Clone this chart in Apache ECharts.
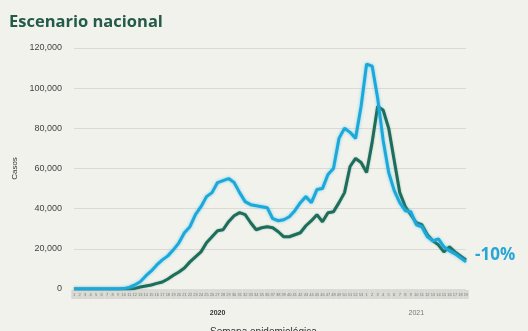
<!DOCTYPE html>
<html>
<head>
<meta charset="utf-8">
<script src="https://cdn.jsdelivr.net/npm/echarts@6/dist/echarts.min.js"></script>
<style>
html,body{margin:0;padding:0;background:#f1f2ec;}
#chart{width:528px;height:331px;}
</style>
</head>
<body>
<div id="chart"></div>
<script>
// Epidemiological weeks (2020 W1..W53, 2021 W1..W19)
const categories = [
 '2020-01','2020-02','2020-03','2020-04','2020-05','2020-06','2020-07','2020-08','2020-09','2020-10',
 '2020-11','2020-12','2020-13','2020-14','2020-15','2020-16','2020-17','2020-18','2020-19','2020-20',
 '2020-21','2020-22','2020-23','2020-24','2020-25','2020-26','2020-27','2020-28','2020-29','2020-30',
 '2020-31','2020-32','2020-33','2020-34','2020-35','2020-36','2020-37','2020-38','2020-39','2020-40',
 '2020-41','2020-42','2020-43','2020-44','2020-45','2020-46','2020-47','2020-48','2020-49','2020-50',
 '2020-51','2020-52','2020-53',
 '2021-01','2021-02','2021-03','2021-04','2021-05','2021-06','2021-07','2021-08','2021-09','2021-10',
 '2021-11','2021-12','2021-13','2021-14','2021-15','2021-16','2021-17','2021-18','2021-19'
];
const yearTicks = ['2020-27', '2021-10'];
const yearNames = ['2020', '2021'];
const yTicks = [0, 20000, 40000, 60000, 80000, 100000, 120000];

// Blue series (estimated cases)
const casosEstimados = [
 0,0,0,0,0,0,0,0,20,200,
 800,2000,3600,6500,9000,12000,14500,16500,19500,23000,
 28000,31000,37000,41000,46000,48000,53000,54000,55000,53000,
 48000,43500,42000,41500,41000,40500,35000,34000,34500,36000,
 39000,43000,46000,43000,49500,50000,57000,60000,75000,80000,
 78000,75000,91000,112000,111000,95000,74000,58000,49000,43000,
 39000,38500,32000,31000,26000,24000,25000,21000,19000,17500,
 15500,13500
];
// Dark green series (confirmed cases)
const casosConfirmados = [
 0,0,0,0,0,0,0,0,0,0,
 0,300,1000,1500,2000,2800,3500,5000,6800,8500,
 10500,13500,16000,18500,23000,26000,29000,29500,33500,36500,
 38000,37000,33000,29500,30500,31000,30500,28500,26000,26000,
 27000,28000,31500,34000,37000,33500,38000,38500,43000,48000,
 61000,65000,63000,58000,73000,91000,89000,80000,64000,48000,
 41000,37000,33000,32000,27000,24000,22000,18500,21000,18500,
 16500,14500
];
const changeLabel = '-10%';

const chart = echarts.init(document.getElementById('chart'), null, {renderer: 'canvas'});
const option = {
  backgroundColor: '#f1f2ec',
  animation: false,
  title: [
    {text: 'Escenario nacional', left: 4, top: 9,
     textStyle: {fontFamily: 'Open Sans', fontWeight: 'bold', fontSize: 16.5, color: '#245a4a'}},
    {text: 'Semana epidemiológica', left: 205, top: 322,
     textStyle: {fontFamily: 'Liberation Sans', fontWeight: 'normal', fontSize: 10, color: '#333'}},
    {text: changeLabel, left: 470, top: 242,
     textStyle: {fontFamily: 'Open Sans', fontWeight: 'bold', fontSize: 17, color: '#2aa6d6'}}
  ],
  grid: {left: 74, right: 62, top: 48, bottom: 42},
  xAxis: [
    {
      type: 'category', data: categories, boundaryGap: false,
      axisLine: {show: false}, axisTick: {show: false},
      axisLabel: {
        interval: 0, margin: 1, fontSize: 4, color: '#7a7a7a',
        backgroundColor: '#d9d9d4', width: 5.52, align: 'center',
        padding: [2, 0, 2, 0], lineHeight: 5,
        formatter: v => String(parseInt(v.slice(5), 10))
      },
      splitLine: {show: false}
    },
    {
      type: 'category', data: categories, boundaryGap: false, position: 'bottom',
      offset: 13,
      axisLine: {show: false}, axisTick: {show: false},
      axisLabel: {
        interval: 0, fontSize: 7, fontFamily: 'Liberation Sans',
        formatter: v => {
          const k = yearTicks.indexOf(v);
          if (k < 0) return '';
          return k === 0 ? '{b|' + yearNames[k] + '}' : '{n|' + yearNames[k] + '}';
        },
        rich: {
          b: {fontSize: 7, fontWeight: 'bold', color: '#333', fontFamily: 'Liberation Sans'},
          n: {fontSize: 7, color: '#777', fontFamily: 'Liberation Sans'}
        }
      }
    }
  ],
  yAxis: {
    type: 'value', min: 0, max: 120000, interval: 20000,
    name: 'Casos', nameLocation: 'middle', nameGap: 53, nameRotate: 90,
    nameTextStyle: {fontSize: 8, color: '#333', fontFamily: 'Liberation Sans'},
    axisLine: {show: false}, axisTick: {show: false},
    axisLabel: {
      fontSize: 9, color: '#444', margin: 12, fontFamily: 'Liberation Sans',
      formatter: v => yTicks.indexOf(v) >= 0 ? v.toLocaleString('en-US') : ''
    },
    splitLine: {lineStyle: {color: '#dadad6', width: 1}}
  },
  series: [
    {
      name: 'Confirmados', type: 'line', data: casosConfirmados, xAxisIndex: 0,
      showSymbol: false, symbol: 'none',
      lineStyle: {color: '#1c6d5b', width: 3, shadowBlur: 2, shadowColor: 'rgba(28,109,91,0.4)'}
    },
    {
      name: 'Estimados', type: 'line', data: casosEstimados, xAxisIndex: 0,
      showSymbol: false, symbol: 'none',
      lineStyle: {color: '#1ca8d8', width: 3, shadowBlur: 3, shadowColor: 'rgba(60,190,240,0.7)'}
    }
  ]
};
chart.setOption(option);
</script>
</body>
</html>
